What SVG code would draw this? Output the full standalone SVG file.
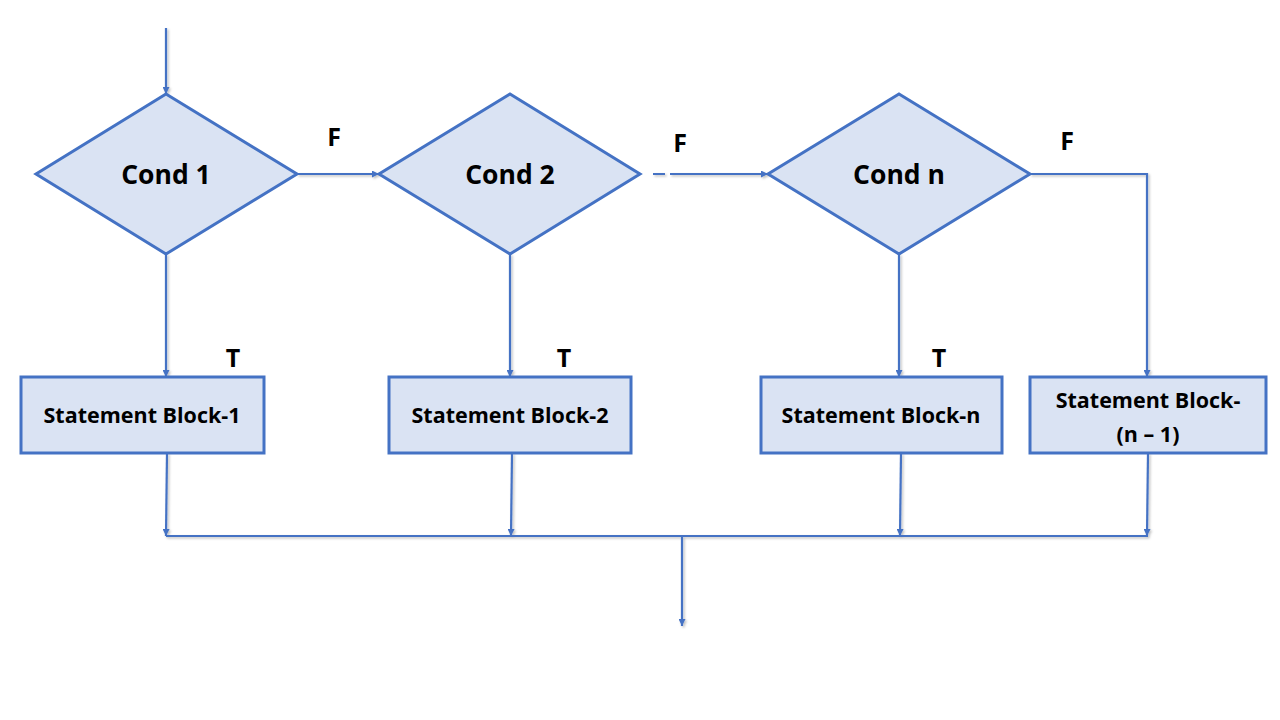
<svg xmlns="http://www.w3.org/2000/svg" width="1280" height="720" viewBox="0 0 1280 720">
<style>
.shape{fill:#dae3f3;stroke:#4472c4;stroke-width:3}
.line{fill:none;stroke:#4472c4;stroke-width:2.2}
.t{font-family:"Open Sans","Liberation Sans",sans-serif;font-weight:bold;fill:#000;text-anchor:middle}
.c{font-size:26.5px}
.s{font-size:21.5px}
.l{font-size:25px}
</style>
<defs>
<marker id="ah" viewBox="0 0 10 10" refX="10" refY="5" markerWidth="11" markerHeight="7" markerUnits="userSpaceOnUse" orient="auto">
<path d="M0,0 L10,5 L0,10 Z" fill="#4472c4"/>
</marker>
<filter id="sh" x="-5%" y="-5%" width="110%" height="110%">
<feDropShadow dx="1.5" dy="1.5" stdDeviation="1" flood-color="#000" flood-opacity="0.25"/>
</filter>
</defs>
<rect width="1280" height="720" fill="#fff"/>
<g id="connectors" filter="url(#sh)">
<path class="line" d="M166,28 L166,94" marker-end="url(#ah)"/>
<path class="line" d="M297,174 L379,174" marker-end="url(#ah)"/>
<path class="line" d="M653,174 L665,174 M670,174 L768,174" marker-end="url(#ah)"/>
<path class="line" d="M1030,174 L1147,174 L1147,377" marker-end="url(#ah)"/>
<path class="line" d="M166,254 L166,377" marker-end="url(#ah)"/>
<path class="line" d="M510,254 L510,377" marker-end="url(#ah)"/>
<path class="line" d="M899,254 L899,377" marker-end="url(#ah)"/>
<path class="line" d="M167,453 L166,536" marker-end="url(#ah)"/>
<path class="line" d="M512,453 L511,536" marker-end="url(#ah)"/>
<path class="line" d="M901,453 L900,536" marker-end="url(#ah)"/>
<path class="line" d="M1148,453 L1147,536" marker-end="url(#ah)"/>
<path class="line" d="M166,536 L1148,536"/>
<path class="line" d="M682,536 L682,626" marker-end="url(#ah)"/>
</g>
<g id="cond1"><polygon class="shape" points="166,94 297,174 166,254 36,174"/><text class="t c" x="166" y="184">Cond 1</text></g>
<g id="cond2"><polygon class="shape" points="510,94 640,174 510,254 379,174"/><text class="t c" x="510" y="184">Cond 2</text></g>
<g id="condn"><polygon class="shape" points="899,94 1030,174 899,254 768,174"/><text class="t c" x="899" y="184">Cond n</text></g>
<g id="block1"><rect class="shape" x="21" y="377" width="243" height="76"/><text class="t s" x="142" y="423">Statement Block-1</text></g>
<g id="block2"><rect class="shape" x="389" y="377" width="242" height="76"/><text class="t s" x="510" y="423">Statement Block-2</text></g>
<g id="blockn"><rect class="shape" x="761" y="377" width="241" height="76"/><text class="t s" x="881" y="423">Statement Block-n</text></g>
<g id="blockn1"><rect class="shape" x="1030" y="377" width="236" height="76"/><text class="t s" x="1148" y="408">Statement Block-</text><text class="t s" x="1148" y="442">(n – 1)</text></g>
<g id="labels">
<text class="t l" x="334" y="146">F</text>
<text class="t l" x="680" y="152">F</text>
<text class="t l" x="1067" y="150">F</text>
<text class="t l" x="233" y="367">T</text>
<text class="t l" x="564" y="367">T</text>
<text class="t l" x="939" y="367">T</text>
</g>
</svg>
